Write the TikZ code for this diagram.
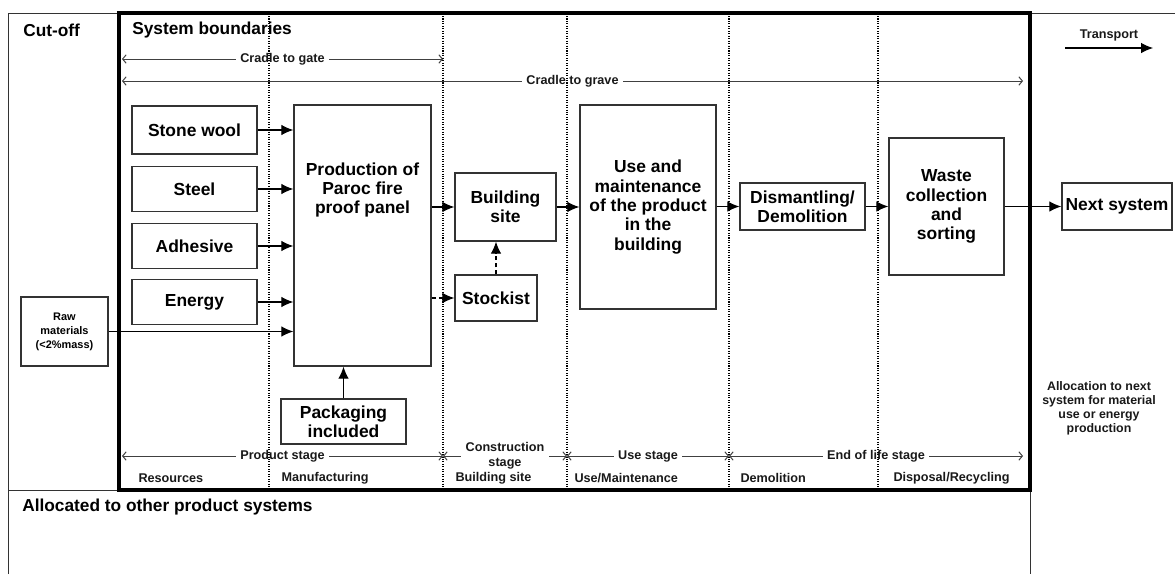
\documentclass[tikz,border=0pt]{standalone}
\usepackage{fontspec}
\setmainfont{Liberation Sans}
\usetikzlibrary{arrows.meta,calc}

\begin{document}
\begin{tikzpicture}[
    x=0.025cm, y=-0.025cm,
    blk/.style={rectangle, draw=black!80, line width=1pt, fill=white, inner sep=0pt, align=center, font=\bfseries\fontsize{12.4}{13.7}\selectfont},
    flow/.style={-{Latex[length=8.5pt,width=7.5pt]}, line width=0.8pt},
    span/.style={{Straight Barb[length=2.5pt,width=6pt]}-{Straight Barb[length=2.5pt,width=6pt]}, line width=0.7pt, draw=black!75},
    tag/.style={font=\bfseries\fontsize{9}{10.7}\selectfont, text=black!90, fill=white, inner xsep=3pt, inner ysep=1pt, align=center},
    sep/.style={densely dotted, line width=0.75pt, black},
    head/.style={font=\bfseries\fontsize{12.3}{14}\selectfont, inner sep=0pt}
]
\useasboundingbox (0,0) rectangle (1175,574);

% Frame
\draw[line width=0.7pt, black!80] (8,574) -- (8,13) -- (1175,13);
\draw[line width=0.7pt, black!80] (8,490) -- (119,490);
\draw[line width=0.7pt, black!80] (1030,490) -- (1030,574);
\draw[line width=3.5pt] (119,13) rectangle (1030,490);

\node[head, anchor=west] (cutoff) at (23,30) {Cut-off};
\node[head, anchor=west] (sysb) at (132,30) {System boundaries};
\node[head, anchor=west] (other) at (22,507) {Allocated to other product systems};

% Cradle spans
\coordinate (cg0) at (122,59);
\coordinate (cg1) at (443,59);
\coordinate (cv0) at (122,81);
\coordinate (cv1) at (1023,81);
\draw[span] (cg0) -- node[tag] {Cradle to gate} (cg1);
\draw[span] (cv0) -- node[tag] {Cradle to grave} (cv1);

% Stage spans
\coordinate (s0) at (122,456);
\coordinate (s1) at (443,456);
\coordinate (s2) at (567,456);
\coordinate (s3) at (729,456);
\coordinate (s4) at (1023,456);
\draw[span] (s0) -- node[tag] {Product stage} (s1);
\draw[span] (s1) -- node[tag, inner ysep=0pt] {Construction\\stage} (s2);
\draw[span] (s2) -- node[tag] {Use stage} (s3);
\draw[span] (s3) -- node[tag] {End of life stage} (s4);

\node[tag, fill=none, anchor=west] (resources) at (134,478) {Resources};
\node[tag, fill=none, anchor=west] (manuf) at (277,478) {Manufacturing};
\node[tag, fill=none, anchor=west] (bsite) at (451,478) {Building site};
\node[tag, fill=none, anchor=west] (usemaint) at (570,478) {Use/Maintenance};
\node[tag, fill=none, anchor=west] (demol) at (736,478) {Demolition};
\node[tag, fill=none, anchor=west] (disposal) at (889,478) {Disposal/Recycling};

% Dividers
\foreach \x in {269,443,567,729,878}
  \draw[sep] (\x,16) -- (\x,487);

% Inputs
\node[blk, minimum width=3.125cm, minimum height=1.2cm] (wool) at (194.5,130) {Stone wool};
\node[blk, minimum width=3.125cm, minimum height=1.125cm] (steel) at (194.5,189) {Steel};
\node[blk, minimum width=3.125cm, minimum height=1.125cm] (adh) at (194.5,246) {Adhesive};
\node[blk, minimum width=3.125cm, minimum height=1.125cm] (energy) at (194.5,302) {Energy};
\node[blk, minimum width=2.175cm, minimum height=1.725cm, font=\bfseries\fontsize{7.8}{10}\selectfont] (raw) at (64.5,331.5) {Raw\\materials\\(<2\%mass)};

% Production
\node[blk, minimum width=3.425cm, minimum height=6.525cm] (prod) at (362.5,235.5) {};
\node[blk, draw=none, fill=none] (prodtxt) at (362.5,190) {Production of\\Paroc fire\\proof panel};
\node[blk, minimum width=3.125cm, minimum height=1.125cm] (pack) at (343.5,421.5) {Packaging\\included};

% Downstream
\node[blk, minimum width=2.525cm, minimum height=1.7cm] (build) at (505.5,207) {Building\\site};
\node[blk, minimum width=2.05cm, minimum height=1.15cm] (stock) at (496,298) {Stockist};
\node[blk, minimum width=3.4cm, minimum height=5.1cm] (use) at (648,207) {Use and\\maintenance\\of the product\\in the\\building};
\node[blk, minimum width=3.125cm, minimum height=1.175cm] (dism) at (802.5,206.5) {Dismantling/\\Demolition};
\node[blk, minimum width=2.875cm, minimum height=3.425cm] (waste) at (946.5,206.5) {Waste\\collection\\and\\sorting};
\node[blk, minimum width=2.75cm, minimum height=1.175cm] (next) at (1117,206.5) {Next system};

% Arrows
\foreach \n in {wool,steel,adh,energy,raw}
  \draw[flow] (\n.east) -- (\n.east -| prod.west);
\draw[flow] (pack.north) -- (pack.north |- prod.south);
\draw[flow] (prod.east |- build.west) -- (build.west);
\draw[flow, dash pattern=on 3pt off 2pt] (prod.east |- stock.west) -- (stock.west);
\draw[flow, dash pattern=on 3pt off 2pt] (stock.north) -- (stock.north |- build.south);
\draw[flow] (build.east) -- (use.west |- build.east);
\draw[flow] (use.east |- dism.west) -- (dism.west);
\draw[flow] (dism.east) -- (waste.west |- dism.east);
\draw[flow] (waste.east) -- (next.west);

% Outside
\coordinate (tr0) at (1065,48);
\coordinate (tr1) at (1153,48);
\node[tag, fill=none] (transp) at (1109,35) {Transport};
\draw[flow] (tr0) -- (tr1);
\node[tag, fill=none, font=\bfseries\fontsize{8.8}{10}\selectfont] (alloc) at (1099,408) {Allocation to next\\system for material\\use or energy\\production};
\end{tikzpicture}
\end{document}
